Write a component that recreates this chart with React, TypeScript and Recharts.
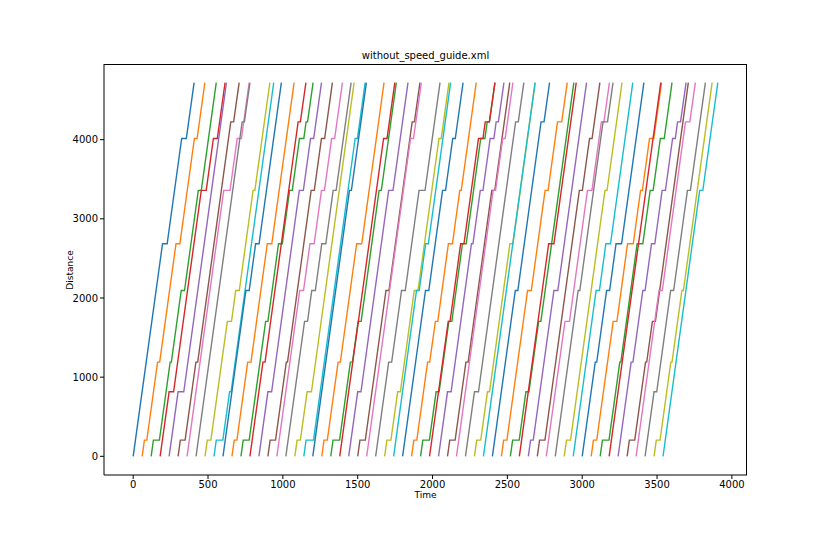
import React from "react";
import { LineChart, Line, XAxis, YAxis } from "recharts";

// tab10 colour cycle
const palette = [
  "#1f77b4", "#ff7f0e", "#2ca02c", "#d62728", "#9467bd",
  "#8c564b", "#e377c2", "#7f7f7f", "#bcbd22", "#17becf",
];

const xTicks = [0, 500, 1000, 1500, 2000, 2500, 3000, 3500, 4000];
const yTicks = [0, 1000, 2000, 3000, 4000];

const routeLength = 4720;

// departure time of each vehicle at distance 0
const startTimes = [
  0, 60, 120, 180, 240, 300, 360, 420, 480, 540,
  600, 660, 720, 780, 840, 900, 960, 1020, 1080, 1140,
  1200, 1260, 1320, 1380, 1440, 1500, 1560, 1620, 1680, 1740,
  1800, 1860, 1920, 1980, 2040, 2100, 2160, 2220, 2280, 2340,
  2400, 2460, 2520, 2580, 2640, 2700, 2760, 2820, 2880, 2940,
  3000, 3060, 3120, 3180, 3240, 3300, 3360, 3420, 3480, 3540,
];

// time each vehicle reaches the end of the route
const endTimes = [
  407, 479, 555, 614, 623, 708, 775, 780, 913, 939,
  990, 1075, 1202, 1154, 1258, 1331, 1398, 1456, 1476, 1550,
  1558, 1676, 1758, 1748, 1836, 1916, 1925, 2050, 2110, 2121,
  2204, 2292, 2417, 2417, 2477, 2516, 2537, 2610, 2686, 2685,
  2782, 2900, 2944, 2960, 3029, 3118, 3182, 3206, 3266, 3338,
  3412, 3530, 3600, 3525, 3694, 3709, 3756, 3823, 3868, 3906,
];

// halts per vehicle: [arrive, leave, distance]
const halts: number[][][] = [
  [[196, 227, 2685], [324, 355, 4015]],
  [[75, 91, 205], [163, 177, 1190], [286, 312, 2685], [409, 427, 4015]],
  [[135, 175, 205], [247, 255, 1190], [321, 343, 2095], [435, 455, 3360]],
  [[240, 270, 815], [455, 488, 3360], [536, 562, 4015]],
  [[300, 338, 815]],
  [[315, 347, 205], [419, 431, 1190], [652, 671, 4225]],
  [[605, 647, 3360], [695, 723, 4015]],
  [[728, 743, 4225]],
  [[495, 519, 205], [629, 657, 1705], [685, 709, 2095], [801, 813, 3360]],
  [[555, 599, 205], [644, 654, 815]],
  [[753, 775, 2095], [818, 841, 2685]],
  [[675, 693, 205], [765, 787, 1190], [896, 926, 2685]],
  [[735, 775, 205], [885, 900, 1705], [971, 996, 2685], [1045, 1063, 3360], [1111, 1140, 4015], [1155, 1165, 4225]],
  [[867, 881, 1190], [1102, 1117, 4225]],
  [[900, 925, 815], [1110, 1137, 3360], [1185, 1206, 4015]],
  [[915, 951, 205], [1023, 1031, 1190], [1189, 1210, 3360], [1258, 1279, 4015]],
  [[1113, 1138, 2095], [1181, 1209, 2685], [1258, 1278, 3360], [1326, 1346, 4015]],
  [[1145, 1165, 1705], [1193, 1217, 2095], [1260, 1287, 2685], [1336, 1356, 3360]],
  [[1095, 1117, 205], [1162, 1191, 815]],
  [[1155, 1205, 205], [1483, 1498, 4015]],
  [[1445, 1458, 3360]],
  [[1275, 1297, 205], [1369, 1384, 1190], [1493, 1527, 2685]],
  [[1335, 1379, 205], [1451, 1465, 1190], [1503, 1523, 1705], [1643, 1658, 3360]],
  [[1673, 1696, 4015]],
  [[1500, 1522, 815], [1707, 1736, 3360]],
  [[1515, 1551, 205], [1689, 1709, 2095], [1864, 1879, 4225]],
  [[1853, 1873, 4015]],
  [[1707, 1727, 1190], [1793, 1818, 2095], [1910, 1950, 3360]],
  [[1695, 1722, 205], [1767, 1785, 815], [1878, 1903, 2095], [2043, 2058, 4015]],
  [[1893, 1911, 2095], [1954, 1972, 2685]],
  [[1953, 1975, 2095], [2067, 2087, 3360], [2135, 2152, 4015]],
  [[1875, 1895, 205], [1967, 1981, 1190], [2019, 2035, 1705], [2106, 2133, 2685], [2182, 2192, 3360]],
  [[1935, 1979, 205], [2024, 2044, 815], [2109, 2129, 1705], [2200, 2225, 2685], [2322, 2350, 4015], [2365, 2380, 4225]],
  [[2105, 2117, 1705], [2188, 2210, 2685], [2307, 2337, 4015], [2352, 2380, 4225]],
  [[2100, 2124, 815], [2260, 2270, 2685], [2319, 2337, 3360], [2385, 2410, 4015], [2425, 2440, 4225]],
  [[2115, 2151, 205], [2223, 2238, 1190], [2396, 2416, 3360]],
  [[2405, 2421, 3360], [2469, 2485, 4015]],
  [[2280, 2307, 815], [2555, 2573, 4225]],
  [[2295, 2322, 205], [2367, 2381, 815], [2517, 2537, 2685]],
  [],
  [[2553, 2570, 2095], [2725, 2745, 4225]],
  [[2475, 2497, 205], [2635, 2660, 2095], [2752, 2772, 3360], [2835, 2863, 4225]],
  [[2535, 2579, 205], [2624, 2644, 815], [2709, 2724, 1705]],
  [[2776, 2811, 2685]],
  [[2655, 2673, 205], [2811, 2837, 2095]],
  [[2715, 2751, 205], [2981, 3001, 3360], [3049, 3066, 4015]],
  [[2885, 2915, 1705], [3035, 3065, 3360], [3128, 3145, 4225]],
  [[2973, 2984, 2095], [3139, 3169, 4225]],
  [[2895, 2922, 205], [3152, 3166, 3360]],
  [[3093, 3115, 2095], [3158, 3189, 2685]],
  [[3087, 3097, 1190], [3163, 3183, 2095], [3226, 3263, 2685]],
  [[3075, 3097, 205], [3207, 3232, 1705], [3303, 3341, 2685], [3390, 3402, 3360], [3450, 3478, 4015]],
  [[3135, 3179, 205], [3251, 3258, 1190], [3367, 3405, 2685], [3454, 3474, 3360], [3522, 3548, 4015]],
  [],
  [[3327, 3339, 1190], [3405, 3420, 2095], [3463, 3485, 2685], [3534, 3556, 3360], [3604, 3622, 4015], [3637, 3657, 4225]],
  [[3315, 3351, 205], [3423, 3431, 1190], [3469, 3489, 1705]],
  [[3513, 3535, 2095], [3690, 3719, 4225]],
  [[3480, 3498, 815], [3591, 3611, 2095], [3703, 3723, 3360]],
  [[3495, 3520, 205], [3592, 3600, 1190], [3666, 3676, 2095]],
  [[3785, 3806, 3360]],
];

const trips = startTimes.map((start, i) => [
  { t: start, d: 0 },
  ...halts[i].flatMap(([arrive, leave, d]) => [
    { t: arrive, d },
    { t: leave, d },
  ]),
  { t: endTimes[i], d: routeLength },
]);

const X_DOMAIN: [number, number] = [-195, 4101];
const Y_DOMAIN: [number, number] = [-236, 4956];
const FONT = "'DejaVu Sans', sans-serif";
const tickStyle = { fontSize: 10, fill: "#000", fontFamily: FONT };

export default function App() {
  return (
    <div
      style={{
        position: "absolute",
        left: 0,
        top: 0,
        width: 830,
        height: 534,
        background: "#fff",
        fontFamily: FONT,
      }}
    >
      <LineChart
        width={830}
        height={534}
        margin={{ top: 64, right: 83, bottom: 29, left: 44 }}
      >
        <XAxis
          type="number"
          dataKey="t"
          domain={X_DOMAIN}
          ticks={xTicks}
          allowDataOverflow
          height={30}
          tick={tickStyle}
          tickSize={4}
          tickMargin={2}
          stroke="#000"
        />
        <YAxis
          type="number"
          dataKey="d"
          domain={Y_DOMAIN}
          ticks={yTicks}
          allowDataOverflow
          width={60}
          tick={tickStyle}
          tickSize={4}
          tickMargin={2}
          stroke="#000"
        />
        {trips.map((trip, i) => (
          <Line
            key={i}
            data={trip}
            dataKey="d"
            type="linear"
            stroke={palette[i % 10]}
            strokeWidth={1.4}
            dot={false}
            activeDot={false}
            isAnimationActive={false}
          />
        ))}
      </LineChart>

      {/* top and right frame lines of the axes box */}
      <div
        style={{
          position: "absolute",
          left: 104,
          top: 64,
          width: 643,
          height: 411,
          borderTop: "1px solid #000",
          borderRight: "1px solid #000",
          boxSizing: "border-box",
          pointerEvents: "none",
        }}
      />

      {/* title and axis labels */}
      <div
        style={{
          position: "absolute",
          left: 104,
          width: 643,
          top: 50,
          textAlign: "center",
          fontSize: 10,
          color: "#000",
        }}
      >
        without_speed_guide.xml
      </div>
      <div
        style={{
          position: "absolute",
          left: 104,
          width: 643,
          top: 490,
          textAlign: "center",
          fontSize: 9,
          color: "#000",
        }}
      >
        Time
      </div>
      <div
        style={{
          position: "absolute",
          left: 70,
          top: 270,
          transform: "translate(-50%, -50%) rotate(-90deg)",
          fontSize: 9,
          color: "#000",
          whiteSpace: "nowrap",
        }}
      >
        Distance
      </div>
    </div>
  );
}
